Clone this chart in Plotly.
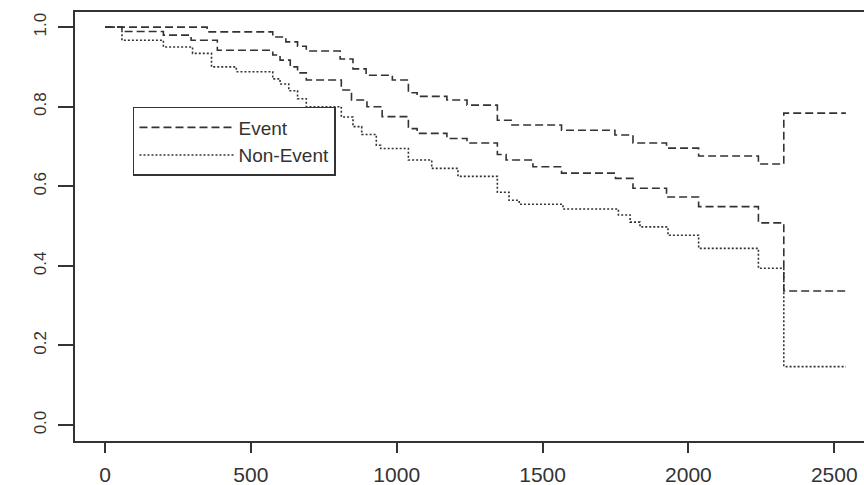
import plotly.graph_objects as go

# Survival-type step curves
t_upper = [0, 350, 575, 620, 660, 690, 806, 850, 895, 985, 1040, 1070, 1172, 1241,
           1345, 1395, 1565, 1748, 1810, 1925, 2035, 2240, 2327, 2540]
s_upper = [1.0, 0.988, 0.975, 0.963, 0.952, 0.940, 0.920, 0.895, 0.879, 0.867, 0.835,
           0.826, 0.817, 0.804, 0.766, 0.754, 0.741, 0.729, 0.709, 0.696, 0.676, 0.656,
           0.784, 0.784]

t_event = [0, 58, 200, 295, 385, 575, 600, 635, 660, 690, 810, 845, 898, 950, 1040,
           1070, 1172, 1241, 1345, 1375, 1467, 1565, 1750, 1810, 1925, 2035, 2240,
           2327, 2540]
s_event = [1.0, 0.989, 0.98, 0.967, 0.942, 0.93, 0.917, 0.9, 0.885, 0.867, 0.842,
           0.817, 0.8, 0.775, 0.745, 0.733, 0.72, 0.709, 0.68, 0.666, 0.649, 0.633,
           0.62, 0.595, 0.573, 0.549, 0.508, 0.337, 0.337]

t_nonevent = [0, 58, 200, 300, 365, 450, 575, 600, 630, 660, 690, 810, 850, 880, 930,
              945, 1040, 1120, 1210, 1345, 1385, 1420, 1570, 1760, 1800, 1834, 1930,
              2035, 2240, 2327, 2540]
s_nonevent = [1.0, 0.967, 0.95, 0.934, 0.9, 0.888, 0.87, 0.857, 0.84, 0.82, 0.8,
              0.774, 0.75, 0.73, 0.703, 0.695, 0.666, 0.645, 0.625, 0.585, 0.565,
              0.555, 0.543, 0.528, 0.51, 0.498, 0.477, 0.444, 0.394, 0.147, 0.147]

x_ticks = [0, 500, 1000, 1500, 2000, 2500]
y_ticks = [0.0, 0.2, 0.4, 0.6, 0.8, 1.0]
y_ticktext = ["0.0", "0.2", "0.4", "0.6", "0.8", "1.0"]

INK = "#333333"
FONT = "Liberation Sans, Arial, sans-serif"
DASH = "8px,4px"
DOT = "2px,2px"

fig = go.Figure()
fig.add_trace(go.Scatter(x=t_upper, y=s_upper, mode="lines", line_shape="hv",
                         line=dict(color=INK, width=1.6, dash=DASH),
                         name="Event", showlegend=False))
fig.add_trace(go.Scatter(x=t_event, y=s_event, mode="lines", line_shape="hv",
                         line=dict(color=INK, width=1.6, dash=DASH),
                         name="Event"))
fig.add_trace(go.Scatter(x=t_nonevent, y=s_nonevent, mode="lines", line_shape="hv",
                         line=dict(color=INK, width=1.6, dash=DOT),
                         name="Non-Event"))

fig.update_layout(
    width=864, height=485,
    margin=dict(l=75, r=0, t=12, b=44),
    paper_bgcolor="white", plot_bgcolor="white",
    font=dict(family=FONT, color=INK),
    xaxis=dict(range=[-103, 2602], tickvals=x_ticks, ticks="outside", ticklen=10,
               tickwidth=1.5, tickcolor=INK, showline=True, linecolor=INK,
               linewidth=1.6, mirror=True, showgrid=False, zeroline=False,
               ticklabelstandoff=4,
               tickfont=dict(size=21, family=FONT, color=INK)),
    yaxis=dict(range=[-0.040, 1.038], tickvals=y_ticks, ticktext=y_ticktext,
               tickangle=-90, ticks="outside", ticklen=15, tickwidth=1.5,
               tickcolor=INK, showline=True, linecolor=INK, linewidth=1.6,
               showgrid=False, zeroline=False, ticklabelstandoff=5,
               tickfont=dict(size=17, family=FONT, color=INK)),
    legend=dict(x=0.0735, y=0.7786, xanchor="left", yanchor="top",
                bordercolor=INK, borderwidth=1.5, bgcolor="white",
                font=dict(size=19, family=FONT, color=INK),
                itemwidth=94, tracegroupgap=0),
)

fig.write_html("out.html")
